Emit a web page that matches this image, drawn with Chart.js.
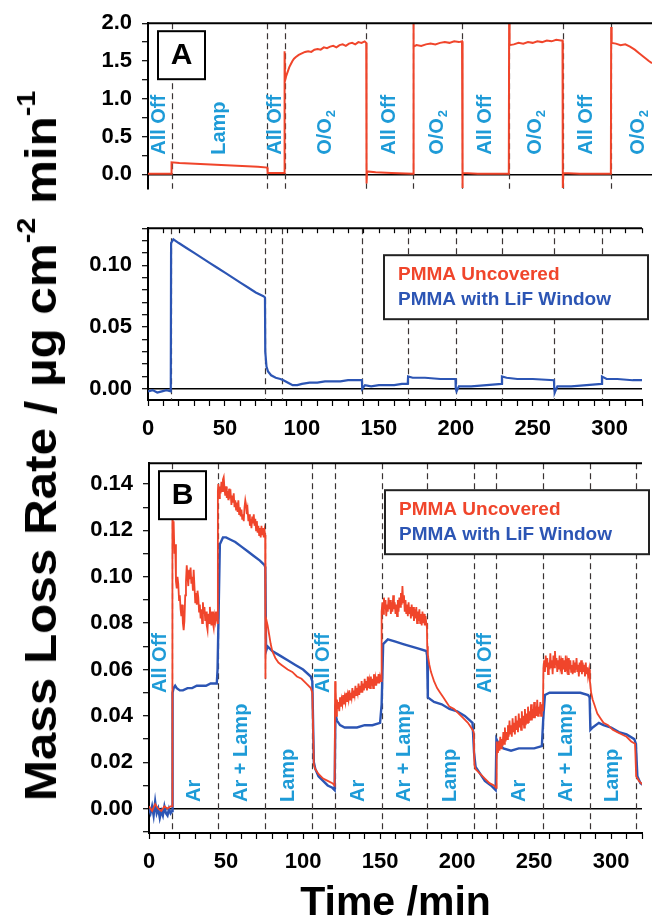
<!DOCTYPE html>
<html lang="en">
<head>
  <meta charset="UTF-8" />
  <title>Mass loss rate of PMMA</title>
  <script src="https://cdn.jsdelivr.net/npm/chart.js"></script>
  <style>
    html, body { margin: 0; padding: 0; background: #fff; overflow: hidden; }
    #page { position: relative; width: 652px; height: 920px; }
    #page canvas { position: absolute; left: 0; }
    #yTitle {
      position: absolute; left: 41px; top: 446px;
      font: bold 44px 'Liberation Sans', Arial, sans-serif; line-height: 1;
      white-space: nowrap; color: #000;
    }
    #yTitle sup { font-size: 58%; line-height: 0; position: relative; top: -0.2em; vertical-align: super; }
  </style>
</head>
<body>
<div id="page">
  <canvas id="panelA1" width="652" height="212" style="top:0px"></canvas>
  <canvas id="panelA2" width="652" height="240" style="top:205px"></canvas>
  <canvas id="panelB" width="652" height="480" style="top:440px"></canvas>
  <div id="yTitle">Mass Loss Rate / µg cm<sup>-2</sup> min<sup>-1</sup></div>
</div>
<script>
  // series names / colours
  const seriesNames = ['PMMA Uncovered', 'PMMA with LiF Window'];
  const seriesColors = ['#f0452b', '#2c55b4'];

  // tick labels
  const xTickLabels = [0, 50, 100, 150, 200, 250, 300];
  const yTickLabelsA1 = [0, 0.5, 1, 1.5, 2];
  const yTickLabelsA2 = [0, 0.05, 0.1];
  const yTickLabelsB = [0, 0.02, 0.04, 0.06, 0.08, 0.1, 0.12, 0.14];

  // switching times (min) and the phase names between them
  const eventsA = [15, 76, 87, 139, 169, 200, 230, 264, 295];
  const phaseBoundsA = [0, 15, 76, 87, 139, 169, 200, 230, 264, 295, 330];
  const phasesA = ['All Off', 'Lamp', 'All Off', 'O/O₂', 'All Off', 'O/O₂', 'All Off', 'O/O₂', 'All Off', 'O/O₂'];

  const eventsB = [15, 44.5, 75.5, 106, 121, 151, 180.5, 211, 225.5, 256, 286, 316];
  const phaseBoundsB = [0, 15, 44.5, 75.5, 106, 121, 151, 180.5, 211, 225.5, 256, 286, 316];
  const phasesB = ['All Off', 'Ar', 'Ar + Lamp', 'Lamp', 'All Off', 'Ar', 'Ar + Lamp', 'Lamp', 'All Off', 'Ar', 'Ar + Lamp', 'Lamp'];

  // panel A, uncovered PMMA [min, rate]
  const uncoveredA = [
    [0,0.01],[14.8,0.01],[15,0.16],[20,0.15],[30,0.14],[40,0.13],[50,0.12],[60,0.11],[70,0.1],[76,0.09],[76.2,0.02],[86.8,0.02],
    [87,1.63],[87.3,1.24],[88,1.3],[89,1.36],[90,1.42],[91,1.46],[92,1.5],[93,1.53],[94,1.55],[96,1.58],[98,1.6],[100,1.62],[102,1.63],
    [104,1.62],[106,1.65],[108,1.66],[110,1.65],[112,1.68],[114,1.67],[116,1.69],[118,1.7],[120,1.68],[122,1.71],[124,1.72],[126,1.7],
    [128,1.73],[130,1.74],[132,1.72],[134,1.75],[136,1.74],[138,1.76],[139,1.74],
    [139.2,-0.12],[139.5,0.04],[145,0.03],[155,0.02],[168.8,0.01],
    [169,2.0],[169.3,1.69],[171,1.71],[174,1.7],[177,1.72],[180,1.73],[183,1.72],[186,1.74],[189,1.75],[192,1.74],[195,1.76],[198,1.75],[200,1.76],
    [200.2,-0.18],[200.5,0.02],[210,0.01],[229.8,0.01],
    [230,2.0],[230.3,1.71],[233,1.72],[236,1.74],[239,1.73],[242,1.75],[245,1.74],[248,1.76],[251,1.75],[254,1.77],[257,1.76],[260,1.78],[263,1.77],[264,1.77],
    [264.2,-0.18],[264.5,0.02],[275,0.01],[294.8,0.01],
    [295,1.95],[295.3,1.74],[298,1.73],[301,1.71],[304,1.72],[307,1.69],[310,1.65],[313,1.6],[316,1.55],[319,1.5],[321,1.47]
  ];

  // panel A, PMMA under LiF window
  const lifA = [
    [0,-0.002],[3,-0.001],[6,-0.003],[9,-0.002],[12,-0.001],[14.8,-0.002],[15,0.118],[16.5,0.121],[20,0.118],[25,0.114],[30,0.11],
    [35,0.106],[40,0.102],[45,0.098],[50,0.094],[55,0.09],[60,0.086],[65,0.082],[70,0.078],[75,0.075],[76,0.074],[76.2,0.03],
    [77,0.018],[78,0.014],[80,0.011],[83,0.009],[86,0.008],[88,0.007],[91,0.005],[94,0.003],[97,0.003],[100,0.004],[105,0.005],
    [110,0.005],[115,0.006],[120,0.006],[125,0.006],[130,0.007],[135,0.007],[139,0.007],[139.2,0.0],[141,0.003],[145,0.002],
    [150,0.003],[155,0.003],[160,0.003],[165,0.004],[168.8,0.004],[169,0.01],[172,0.009],[180,0.009],[190,0.008],[199.8,0.008],
    [200,0.0],[200.5,-0.002],[202,0.002],[210,0.002],[220,0.003],[229.8,0.004],[230,0.01],[233,0.009],[240,0.008],[250,0.008],
    [263.8,0.007],[264,0.0],[264.3,-0.003],[266,0.002],[275,0.002],[285,0.003],[294.8,0.004],[295,0.01],[298,0.008],[305,0.008],
    [315,0.007],[321,0.007]
  ];

  // panel B, uncovered PMMA
  const uncoveredB = [
    [0,0.001],[2,-0.001],[4,0.002],[6,0],[8,-0.001],[10,0.001],[12,0],[14,0.001],[15,0.001],
    [15.2,0.133],[15.6,0.118],[16,0.124],[16.5,0.11],[17,0.114],[17.5,0.098],[18,0.095],[18.5,0.1],[19,0.097],[19.5,0.09],[20,0.092],
    [20.5,0.086],[21,0.083],[21.5,0.088],[22,0.08],[22.5,0.077],[23,0.081],[23.5,0.092],[24,0.098],[24.5,0.105],[25,0.1],[25.5,0.096],
    [26,0.103],[26.5,0.099],[27,0.104],[27.5,0.097],[28,0.1],[28.5,0.094],[29,0.103],[29.5,0.096],[30,0.089],[30.5,0.093],[31,0.088],
    [31.5,0.094],[32,0.091],[32.5,0.085],[33,0.088],[33.5,0.082],[34,0.086],[34.5,0.08],[35,0.089],[35.5,0.084],[36,0.087],[36.5,0.081],
    [37,0.085],[37.5,0.079],[38,0.077],[38.5,0.084],[39,0.08],[39.5,0.087],[40,0.083],[40.5,0.079],[41,0.085],[41.5,0.08],[42,0.078],
    [42.5,0.083],[43,0.081],[43.5,0.085],[44,0.082],[44.5,0.08],
    [44.7,0.137],[45,0.14],[45.5,0.134],[46,0.139],[46.5,0.136],[47,0.141],[47.5,0.137],[48,0.142],[48.5,0.143],[49,0.138],[49.5,0.135],
    [50,0.139],[50.5,0.134],[51,0.137],[51.5,0.133],[52,0.138],[52.5,0.135],[53,0.136],[53.5,0.131],[54,0.135],[54.5,0.132],[55,0.136],
    [55.5,0.13],[56,0.133],[56.5,0.129],[57,0.132],[57.5,0.128],[58,0.133],[58.5,0.127],[59,0.13],[59.5,0.126],[60,0.129],[60.5,0.125],
    [61,0.127],[61.5,0.124],[62,0.13],[62.5,0.133],[63,0.131],[63.5,0.127],[64,0.129],[64.5,0.124],[65,0.127],[65.5,0.122],[66,0.125],
    [66.5,0.121],[67,0.126],[67.5,0.123],[68,0.127],[68.5,0.122],[69,0.125],[69.5,0.12],[70,0.124],[70.5,0.119],[71,0.122],[71.5,0.118],
    [72,0.121],[72.5,0.117],[73,0.122],[73.5,0.118],[74,0.121],[74.5,0.117],[75,0.12],[75.4,0.118],
    [75.5,0.056],[75.7,0.062],[76,0.082],[77,0.079],[78,0.075],[79,0.071],[80,0.068],[82,0.065],[84,0.063],[86,0.062],[88,0.061],
    [90,0.06],[93,0.059],[96,0.057],[99,0.056],[102,0.054],[105,0.052],[106,0.05],
    [107,0.019],[108,0.017],[110,0.015],[113,0.013],[116,0.012],[119,0.011],[120.5,0.01],
    [120.8,0.055],[121,0.045],[121.3,0.052],[121.6,0.04],[122,0.047],[122.5,0.043],[123,0.046],[123.5,0.042],[124,0.048],[124.5,0.044],
    [125,0.047],[125.5,0.045],[126,0.049],[126.5,0.045],[127,0.048],[127.5,0.046],[128,0.05],[128.5,0.046],[129,0.049],[129.5,0.047],
    [130,0.051],[130.5,0.047],[131,0.05],[131.5,0.048],[132,0.052],[132.5,0.048],[133,0.051],[133.5,0.049],[134,0.053],[134.5,0.049],
    [135,0.052],[135.5,0.05],[136,0.054],[136.5,0.049],[137,0.053],[137.5,0.05],[138,0.055],[138.5,0.05],[139,0.054],[139.5,0.051],
    [140,0.056],[140.5,0.052],[141,0.055],[141.5,0.051],[142,0.057],[142.5,0.052],[143,0.055],[143.5,0.052],[144,0.057],[144.5,0.053],
    [145,0.056],[145.5,0.052],[146,0.058],[146.5,0.053],[147,0.056],[147.5,0.053],[148,0.057],[148.5,0.054],[149,0.058],[149.5,0.054],
    [150,0.057],[150.7,0.055],
    [151,0.085],[151.5,0.089],[152,0.084],[152.5,0.091],[153,0.086],[153.5,0.09],[154,0.083],[154.5,0.088],[155,0.085],[155.5,0.091],
    [156,0.086],[156.5,0.09],[157,0.084],[157.5,0.089],[158,0.085],[158.5,0.092],[159,0.086],[159.5,0.089],[160,0.084],[160.5,0.088],
    [161,0.083],[161.5,0.09],[162,0.085],[162.5,0.091],[163,0.087],[163.5,0.093],[164,0.088],[164.5,0.096],[165,0.089],[165.5,0.092],
    [166,0.085],[166.5,0.09],[167,0.084],[167.5,0.088],[168,0.083],[168.5,0.089],[169,0.084],[169.5,0.087],[170,0.082],[170.5,0.088],
    [171,0.083],[171.5,0.087],[172,0.081],[172.5,0.086],[173,0.082],[173.5,0.087],[174,0.08],[174.5,0.085],[175,0.081],[175.5,0.086],
    [176,0.08],[176.5,0.084],[177,0.079],[177.5,0.085],[178,0.08],[178.5,0.084],[179,0.079],[179.5,0.083],[180,0.08],[180.4,0.078],
    [180.6,0.07],[181,0.066],[182,0.062],[183,0.059],[184,0.057],[185,0.055],[187,0.052],[189,0.05],[191,0.048],[193,0.046],[195,0.044],
    [198,0.043],[201,0.041],[204,0.039],[207,0.037],[210,0.034],[210.8,0.033],
    [211.2,0.019],[212,0.017],[215,0.015],[218,0.013],[221,0.011],[224,0.01],[225.3,0.009],
    [225.5,0.029],[225.8,0.021],[226,0.027],[226.5,0.024],[227,0.029],[227.5,0.025],[228,0.031],[228.5,0.026],[229,0.03],[229.5,0.027],
    [230,0.033],[230.5,0.028],[231,0.035],[231.5,0.029],[232,0.033],[232.5,0.03],[233,0.036],[233.5,0.031],[234,0.038],[234.5,0.032],
    [235,0.036],[235.5,0.031],[236,0.039],[236.5,0.033],[237,0.037],[237.5,0.032],[238,0.04],[238.5,0.034],[239,0.038],[239.5,0.033],
    [240,0.041],[240.5,0.035],[241,0.039],[241.5,0.034],[242,0.042],[242.5,0.036],[243,0.04],[243.5,0.035],[244,0.043],[244.5,0.036],
    [245,0.041],[245.5,0.037],[246,0.044],[246.5,0.037],[247,0.042],[247.5,0.038],[248,0.045],[248.5,0.038],[249,0.043],[249.5,0.039],
    [250,0.046],[250.5,0.039],[251,0.044],[251.5,0.04],[252,0.047],[252.5,0.04],[253,0.044],[253.5,0.041],[254,0.046],[254.5,0.04],
    [255,0.045],[255.7,0.042],
    [256,0.06],[256.5,0.064],[257,0.059],[257.5,0.066],[258,0.061],[258.5,0.065],[259,0.058],[259.5,0.063],[260,0.06],[260.5,0.067],
    [261,0.061],[261.5,0.064],[262,0.058],[262.5,0.066],[263,0.061],[263.5,0.068],[264,0.062],[264.5,0.065],[265,0.059],[265.5,0.064],
    [266,0.06],[266.5,0.066],[267,0.061],[267.5,0.063],[268,0.058],[268.5,0.065],[269,0.06],[269.5,0.064],[270,0.059],[270.5,0.066],
    [271,0.061],[271.5,0.063],[272,0.058],[272.5,0.065],[273,0.06],[273.5,0.064],[274,0.059],[274.5,0.062],[275,0.058],[275.5,0.064],
    [276,0.059],[276.5,0.063],[277,0.06],[277.5,0.065],[278,0.059],[278.5,0.062],[279,0.057],[279.5,0.063],[280,0.059],[280.5,0.064],
    [281,0.058],[281.5,0.063],[282,0.059],[282.5,0.062],[283,0.057],[283.5,0.063],[284,0.058],[284.5,0.061],[285,0.057],[285.7,0.06],
    [286.2,0.055],[287,0.05],[288,0.047],[289,0.045],[290,0.043],[291,0.041],[293,0.039],[295,0.037],[298,0.036],[301,0.034],
    [304,0.033],[307,0.032],[310,0.031],[313,0.029],[315.5,0.028],
    [316.2,0.014],[318,0.012],[321,0.01]
  ];

  // panel B, PMMA under LiF window
  const lifB = [
    [0,0],[1,-0.002],[2,0.001],[3,-0.003],[4,0.003],[5,-0.002],[6,0],[7,-0.004],[8,-0.001],[9,-0.003],[10,0.001],[11,-0.002],
    [12,-0.003],[13,0],[14,-0.002],[15,-0.001],[15.3,0.05],[16,0.052],[17,0.053],[18,0.052],[20,0.051],[22,0.051],[25,0.052],
    [28,0.052],[31,0.053],[34,0.053],[37,0.053],[40,0.054],[44,0.054],[44.5,0.06],[46,0.114],[48,0.117],[50,0.117],[53,0.116],
    [56,0.115],[60,0.113],[64,0.111],[68,0.109],[72,0.107],[75,0.105],[75.5,0.104],[76,0.068],[77,0.07],[80,0.068],[85,0.066],
    [90,0.064],[95,0.062],[100,0.06],[105,0.057],[106,0.055],[107,0.02],[108,0.017],[110,0.014],[113,0.012],[116,0.01],[119,0.009],
    [120.5,0.008],[121,0.041],[122,0.038],[124,0.036],[127,0.035],[130,0.035],[135,0.035],[140,0.036],[145,0.036],[150,0.037],
    [151,0.045],[152,0.071],[155,0.073],[160,0.072],[165,0.071],[170,0.07],[175,0.069],[180,0.068],[180.5,0.066],[181,0.048],
    [185,0.046],[190,0.045],[195,0.043],[200,0.042],[205,0.04],[210,0.037],[211,0.024],[212,0.018],[215,0.015],[218,0.012],
    [222,0.01],[225,0.008],[225.5,0.03],[227,0.028],[230,0.026],[235,0.025],[240,0.026],[245,0.026],[250,0.026],[255,0.027],
    [256,0.04],[257,0.049],[260,0.05],[265,0.05],[270,0.05],[275,0.05],[280,0.05],[285,0.049],[286,0.048],[286.5,0.034],
    [288,0.035],[292,0.037],[295,0.036],[300,0.035],[305,0.033],[310,0.032],[315,0.03],[316,0.028],[317,0.014],[319,0.011],[321,0.01]
  ];

  const FONT = "'Liberation Sans', Arial, sans-serif";
  const LABEL_BLUE = '#1e9bd7';

  function hasLabel(list, v) {
    return list.some(l => Math.abs(l - v) < 1e-9);
  }

  // draws the rotated phase labels, subscript handled by hand
  function drawPhase(ctx, text, x, y) {
    ctx.save();
    ctx.translate(x, y);
    ctx.rotate(-Math.PI / 2);
    ctx.fillStyle = LABEL_BLUE;
    ctx.textAlign = 'left';
    ctx.textBaseline = 'middle';
    ctx.font = 'bold 20px ' + FONT;
    const parts = text.split('₂');
    ctx.fillText(parts[0], 0, 0);
    if (parts.length > 1) {
      const w = ctx.measureText(parts[0]).width;
      ctx.font = 'bold 13px ' + FONT;
      ctx.fillText('2', w + 1, 6);
    }
    ctx.restore();
  }

  const panelDecor = {
    id: 'panelDecor',
    beforeDatasetsDraw(chart, args, opts) {
      const { ctx, chartArea: a, scales: { x } } = chart;
      // dashed switching lines
      ctx.save();
      ctx.strokeStyle = '#3b3434';
      ctx.lineWidth = 1.2;
      ctx.setLineDash([6, 4]);
      opts.events.forEach(t => {
        const px = Math.round(x.getPixelForValue(t)) + 0.5;
        ctx.beginPath();
        ctx.moveTo(px, a.top);
        ctx.lineTo(px, a.bottom);
        ctx.stroke();
      });
      ctx.restore();
      // phase names
      if (opts.phases) {
        opts.phases.forEach((p, i) => {
          const mid = (opts.bounds[i] + opts.bounds[i + 1]) / 2;
          const lift = (opts.lift && opts.lift[p]) || opts.labelBottom;
          drawPhase(ctx, p, x.getPixelForValue(mid), a.bottom - lift);
        });
      }
    },
    afterDatasetsDraw(chart, args, opts) {
      const { ctx, chartArea: a, scales: { x } } = chart;
      ctx.save();
      // top frame
      ctx.strokeStyle = '#000';
      ctx.lineWidth = 2;
      ctx.beginPath();
      ctx.moveTo(a.left, a.top);
      ctx.lineTo(a.right, a.top);
      ctx.stroke();
      if (opts.topTicks) {
        ctx.lineWidth = 1.2;
        x.ticks.forEach(t => {
          const px = Math.round(x.getPixelForValue(t.value)) + 0.5;
          ctx.beginPath();
          ctx.moveTo(px, a.top);
          ctx.lineTo(px, a.top + 5);
          ctx.stroke();
        });
      }
      // panel letter
      if (opts.letter) {
        const bx = a.left + 10, by = a.top + 8;
        ctx.fillStyle = '#fff';
        ctx.fillRect(bx, by, 47, 48);
        ctx.lineWidth = 2;
        ctx.strokeRect(bx, by, 47, 48);
        ctx.fillStyle = '#000';
        ctx.font = 'bold 30px ' + FONT;
        ctx.textAlign = 'center';
        ctx.textBaseline = 'middle';
        ctx.fillText(opts.letter, bx + 23.5, by + 25);
      }
      // legend box
      if (opts.legend) {
        const lx = a.left + 236, ly = a.top + 27;
        ctx.fillStyle = '#fff';
        ctx.fillRect(lx, ly, 264, 64);
        ctx.strokeStyle = '#222';
        ctx.lineWidth = 2;
        ctx.strokeRect(lx, ly, 264, 64);
        ctx.font = 'bold 19px ' + FONT;
        ctx.textAlign = 'left';
        ctx.textBaseline = 'alphabetic';
        seriesNames.forEach((n, i) => {
          ctx.fillStyle = seriesColors[i];
          ctx.fillText(n, lx + 14, ly + 25 + i * 25);
        });
      }
      ctx.restore();
    }
  };

  function makePanel(id, o) {
    return new Chart(document.getElementById(id), {
      type: 'line',
      data: {
        datasets: o.series.map(s => ({
          label: seriesNames[s.idx],
          data: s.points.map(([x, y]) => ({ x, y })),
          borderColor: seriesColors[s.idx],
          borderWidth: s.width,
          pointRadius: 0,
          tension: 0
        }))
      },
      options: {
        responsive: false,
        animation: false,
        devicePixelRatio: 1,
        layout: { padding: { top: o.padTop, bottom: o.padBottom || 0, left: 0, right: 0 } },
        plugins: {
          legend: { display: false },
          tooltip: { enabled: false },
          panelDecor: o.decor
        },
        scales: {
          x: {
            type: 'linear',
            min: 0,
            max: o.xMax,
            display: o.showX,
            afterFit(s) { s.height = o.xHeight || 0; },
            border: { color: '#000', width: 2 },
            grid: { drawOnChartArea: false, tickColor: '#000', tickLength: 6, tickWidth: 1.2 },
            ticks: {
              stepSize: 10,
              autoSkip: false,
              maxRotation: 0,
              padding: 10,
              color: '#000',
              font: { family: FONT, size: 22, weight: 'bold' },
              callback: v => hasLabel(xTickLabels, v) ? String(v) : ''
            },
            title: o.xTitle ? {
              display: true,
              text: o.xTitle,
              color: '#000',
              font: { family: FONT, size: 41, weight: 'bold', lineHeight: 0.8 },
              padding: { top: 0, bottom: 0 }
            } : { display: false }
          },
          y: {
            type: 'linear',
            min: o.yMin,
            max: o.yMax,
            afterFit(s) { s.width = o.axisWidth; },
            border: { color: '#000', width: 2 },
            grid: {
              color: c => (c.tick && c.tick.value === 0 ? '#000' : 'rgba(0,0,0,0)'),
              lineWidth: 1.4,
              tickColor: '#000',
              tickLength: 6,
              tickWidth: 1.2
            },
            ticks: {
              stepSize: o.yStep,
              includeBounds: false,
              autoSkip: false,
              padding: 10,
              color: '#000',
              font: { family: FONT, size: 22, weight: 'bold' },
              callback: v => hasLabel(o.yLabels, v) ? v.toFixed(o.yDigits) : ''
            }
          }
        }
      },
      plugins: [panelDecor]
    });
  }

  // Panel A, upper part (uncovered)
  makePanel('panelA1', {
    series: [{ idx: 0, points: uncoveredA, width: 2 }],
    padTop: 21, padBottom: 2, showX: false, xMax: 321, axisWidth: 148,
    yMin: -0.19, yMax: 2.0, yStep: 0.25, yLabels: yTickLabelsA1, yDigits: 1,
    decor: { events: eventsA, phases: phasesA, bounds: phaseBoundsA, labelBottom: 34, letter: 'A' }
  });

  // Panel A, lower part (LiF window)
  makePanel('panelA2', {
    series: [{ idx: 1, points: lifA, width: 2.2 }],
    padTop: 5, showX: true, xHeight: 45, xMax: 321, axisWidth: 148,
    yMin: -0.009, yMax: 0.13, yStep: 0.01, yLabels: yTickLabelsA2, yDigits: 2,
    decor: { events: eventsA, topTicks: true, legend: true }
  });

  // Panel B
  makePanel('panelB', {
    series: [{ idx: 0, points: uncoveredB, width: 1.8 }, { idx: 1, points: lifB, width: 2.4 }],
    padTop: 13, showX: true, xHeight: 87, xMax: 320, axisWidth: 149, xTitle: 'Time /min',
    yMin: -0.0105, yMax: 0.149, yStep: 0.01, yLabels: yTickLabelsB, yDigits: 2,
    decor: { events: eventsB, phases: phasesB, bounds: phaseBoundsB, labelBottom: 31, lift: { 'All Off': 140 }, letter: 'B', legend: true }
  });

  // stretch the shared y title along its length
  const yTitle = document.getElementById('yTitle');
  const k = 710 / yTitle.offsetWidth;
  yTitle.style.transform = 'translate(-50%, -50%) rotate(-90deg) scaleX(' + k.toFixed(3) + ')';
</script>
</body>
</html>
